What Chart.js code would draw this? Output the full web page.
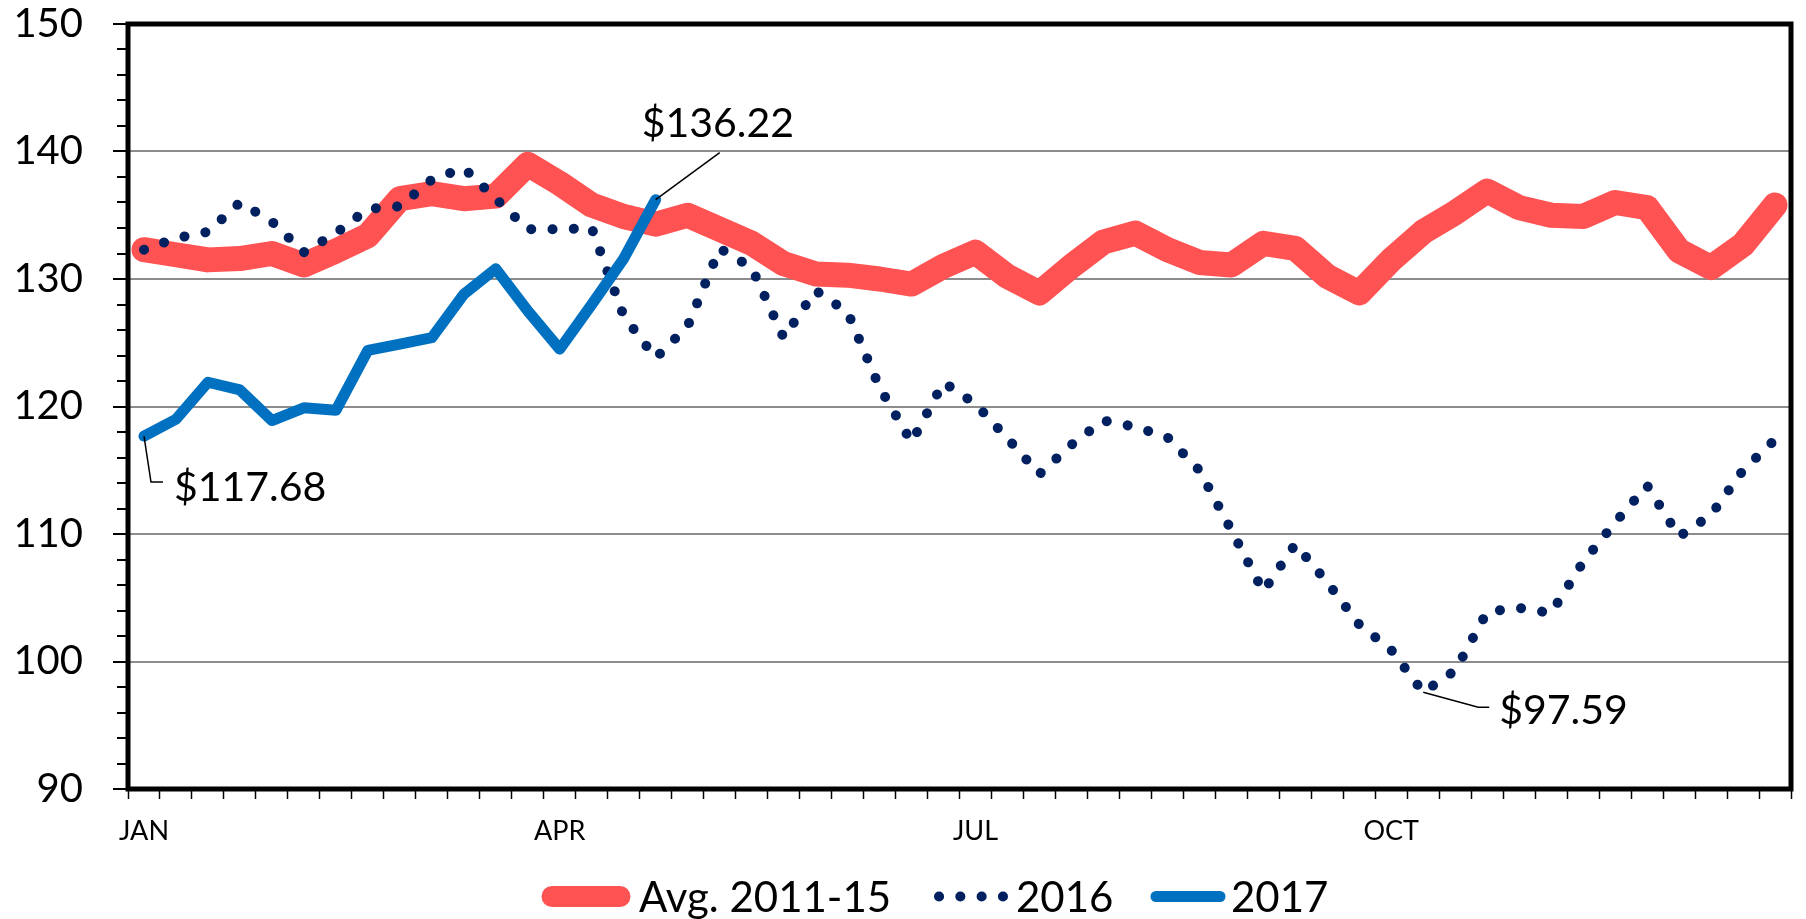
<!DOCTYPE html>
<html><head><meta charset="utf-8">
<script src="https://cdn.jsdelivr.net/npm/chart.js@4.4.1/dist/chart.umd.min.js"></script>
<style>html,body{margin:0;padding:0;background:#fff;}#wrap{width:1806px;height:919px;}</style>
</head><body><div id="wrap"><canvas id="c" width="1806" height="919"></canvas></div>
<script>
// Weekly categories (52 weeks)
const weeks = [1,2,3,4,5,6,7,8,9,10,11,12,13,14,15,16,17,18,19,20,21,22,23,24,25,26,
  27,28,29,30,31,32,33,34,35,36,37,38,39,40,41,42,43,44,45,46,47,48,49,50,51,52];
// Month tick labels and the week index they sit under
const monthLabels = ['JAN','APR','JUL','OCT'];
const monthWeekIndex = [0,13,26,39];
// Y axis
const yMin = 90, yMax = 150, yStep = 2, yLabelEvery = 10;

const avg2011_15 = [132.3,131.9,131.5,131.6,132.0,131.1,132.2,133.4,136.3,136.7,136.3,136.5,139.0,137.5,135.8,134.9,
  134.3,135.0,133.9,132.8,131.2,130.4,130.3,130.0,129.6,131.0,132.1,130.2,128.9,131.0,132.9,133.6,
  132.3,131.3,131.1,132.8,132.4,130.2,128.9,131.5,133.7,135.2,136.9,135.6,135.0,134.9,136.0,135.6,
  132.2,130.9,132.7,135.8];
const y2016 = [132.3,133.2,133.7,136.0,134.5,132.1,133.6,135.5,135.7,137.8,138.7,136.3,133.9,133.9,134.0,127.1,
  123.8,126.3,132.4,130.9,125.4,129.1,127.4,121.5,117.2,121.9,120.2,117.5,114.7,117.0,118.9,118.4,
  117.6,115.0,110.3,105.5,109.2,106.2,102.9,100.9,97.59,99.3,103.9,104.2,103.8,107.8,110.9,113.8,
  109.8,111.5,115.0,117.4];
const y2017 = [117.68,119.0,121.9,121.3,118.9,119.9,119.7,124.4,124.9,125.4,128.8,130.8,127.5,124.5,128.0,131.6,136.22];

const seriesNames = ['Avg. 2011-15','2016','2017'];
// callouts: [dataset index, point index, text]
const callouts = [[2,0,'$117.68'],[2,16,'$136.22'],[1,40,'$97.59']];

const RED='#FF5252', NAVY='#002060', BLUE='#0070C0';
const FONT='Lato';

const framePlugin = {
  id:'frame',
  beforeDatasetsDraw(chart){
    const {ctx, chartArea:a, scales:{y}} = chart;
    ctx.save();
    ctx.strokeStyle='#000'; ctx.lineWidth=2; ctx.lineCap='butt';
    y.ticks.forEach(t=>{
      const py = Math.round(y.getPixelForValue(t.value));
      const len = (t.value % yLabelEvery === 0) ? 15 : 11;
      ctx.beginPath(); ctx.moveTo(a.left-len, py); ctx.lineTo(a.left, py); ctx.stroke();
    });
    ctx.lineWidth=5; ctx.lineJoin='miter';
    ctx.strokeRect(a.left, a.top, a.right-a.left, a.bottom-a.top);
    ctx.restore();
  }
};

const calloutPlugin = {
  id:'callouts',
  afterDatasetsDraw(chart){
    const {ctx} = chart;
    ctx.save();
    ctx.font = '41px '+FONT; ctx.fillStyle='#000'; ctx.strokeStyle='#000'; ctx.lineWidth=1.5;
    ctx.textBaseline='alphabetic'; ctx.textAlign='left';
    const geo = {
      '$117.68': {pts:[[7,46],[19,46]], tx:30, ty:65},
      '$136.22': {pts:[[64,-47]], tx:-14, ty:-63},
      '$97.59': {pts:[[55,15],[66,15]], tx:76, ty:32}
    };
    callouts.forEach(([di,pi,txt])=>{
      const p = chart.getDatasetMeta(di).data[pi];
      const g = geo[txt];
      ctx.beginPath(); ctx.moveTo(p.x,p.y);
      g.pts.forEach(([dx,dy])=>ctx.lineTo(p.x+dx,p.y+dy));
      ctx.stroke();
      ctx.fillText(txt, p.x+g.tx, p.y+g.ty);
    });
    ctx.restore();
  }
};

const legendPlugin = {
  id:'customLegend',
  afterDraw(chart){
    const {ctx} = chart;
    const ds = chart.data.datasets;
    ctx.save();
    ctx.font='42px '+FONT; ctx.fillStyle='#000'; ctx.textBaseline='alphabetic';
    const cy = 896.5, base = 912;
    const items = [
      {d:ds[0], w:21, x0:552, x1:620, tx:639},
      {d:ds[1], w:10, x0:939, x1:1003, tx:1016},
      {d:ds[2], w:11, x0:1156, x1:1220, tx:1231}
    ];
    items.forEach(it=>{
      ctx.save();
      ctx.strokeStyle = it.d.borderColor; ctx.lineWidth = it.w;
      ctx.lineCap = 'round';
      ctx.setLineDash(it.d.borderDash || []);
      ctx.beginPath(); ctx.moveTo(it.x0,cy); ctx.lineTo(it.x1,cy); ctx.stroke();
      ctx.restore();
      ctx.fillText(it.d.label, it.tx, base);
    });
    ctx.restore();
  }
};

new Chart(document.getElementById('c'), {
  type:'line',
  data:{
    labels: weeks,
    datasets:[
      {label:seriesNames[0], data:avg2011_15, borderColor:RED, borderWidth:25, borderCapStyle:'round', borderJoinStyle:'round', pointRadius:0, tension:0, order:3, clip:false},
      {label:seriesNames[1], data:y2016, borderColor:NAVY, borderWidth:10, borderDash:[0.1,21.2], borderCapStyle:'round', borderJoinStyle:'round', pointRadius:0, tension:0, order:2, clip:false},
      {label:seriesNames[2], data:y2017, borderColor:BLUE, borderWidth:11, borderCapStyle:'round', borderJoinStyle:'round', pointRadius:0, tension:0, order:1, clip:false}
    ]
  },
  options:{
    responsive:false, animation:false, devicePixelRatio:1,
    layout:{padding:{left:0,right:15,top:24,bottom:0}},
    plugins:{legend:{display:false}, tooltip:{enabled:false}},
    scales:{
      x:{
        type:'category', offset:true,
        grid:{offset:true, drawOnChartArea:false, drawTicks:true, tickLength:10, tickWidth:1.5, tickColor:'#000'},
        border:{display:false},
        ticks:{autoSkip:false, maxRotation:0, minRotation:0, padding:16, color:'#000',
          font:{family:FONT, size:27},
          callback:(v,i)=>{ const k = monthWeekIndex.indexOf(i); return k>=0 ? monthLabels[k] : ''; }},
        afterFit:(s)=>{ s.height = 130; s.paddingLeft = 0; s.paddingRight = 0; }
      },
      y:{
        min:yMin, max:yMax,
        ticks:{stepSize:yStep, autoSkip:false, padding:45, color:'#000', font:{family:FONT, size:40},
          callback:(v)=> (v % yLabelEvery === 0) ? String(v) : ''},
        grid:{drawTicks:false, lineWidth:2,
          color:(c)=> (c.tick && c.tick.value % yLabelEvery === 0) ? '#8c8c8c' : 'rgba(0,0,0,0)'},
        border:{display:false},
        afterFit:(s)=>{ s.width = 128; s.paddingTop = 0; s.paddingBottom = 0; }
      }
    }
  },
  plugins:[framePlugin, calloutPlugin, legendPlugin]
});
</script></body></html>
